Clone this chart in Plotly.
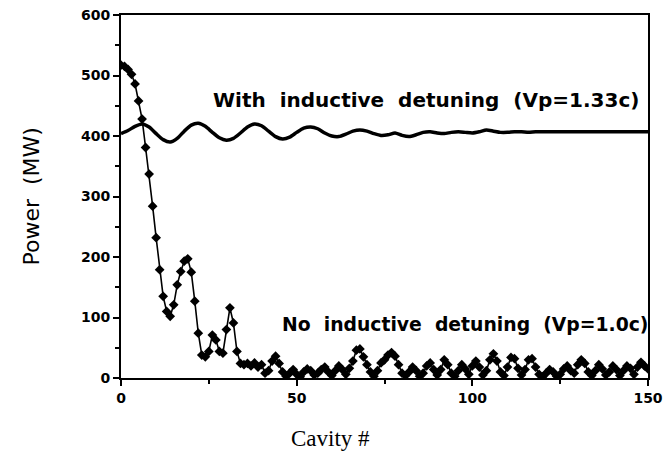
import plotly.graph_objects as go

# No inductive detuning (Vp=1.0c): power per cavity, cavities 0..150
no_detune_cavity = list(range(0, 151))
no_detune_power = [
    517, 515, 510, 502, 486, 458, 428, 381, 337, 284,
    232, 179, 135, 110, 102, 121, 154, 176, 193, 197,
    175, 127, 74, 38, 35, 44, 71, 63, 44, 41,
    80, 116, 91, 44, 24, 22, 24, 20, 25, 18,
    22, 8, 12, 28, 36, 24, 10, 3, 8, 14,
    6, 2, 10, 15, 12, 5, 8, 14, 18, 10,
    4, 12, 20, 14, 6, 16, 28, 46, 48, 35,
    22, 10, 3, 12, 25, 30, 38, 42, 36, 22,
    8, 4, 10, 18, 12, 3, 8, 20, 25, 14,
    5, 14, 30, 22, 8, 3, 12, 22, 15, 6,
    20, 28, 18, 5, 12, 30, 40, 28, 10, 4,
    18, 34, 32, 16, 5, 14, 30, 32, 18, 6,
    2, 8, 14, 10, 3, 6, 15, 20, 12, 8,
    22, 30, 24, 10, 4, 12, 22, 15, 5, 10,
    20, 14, 4, 12, 20, 16, 6, 18, 26, 20,
    15,
]

# With inductive detuning (Vp=1.33c)
with_detune_cavity = list(range(0, 151, 2))
with_detune_power = [
    404, 409, 416, 420, 415, 404, 394, 390, 396, 408,
    418, 421, 416, 406, 397, 393, 396, 405, 415, 420,
    417, 408, 399, 395, 398, 406, 413, 415, 412, 405,
    400, 399, 403, 408, 410, 408, 404, 401, 402, 405,
    401, 399, 402, 406, 407, 405, 404, 406, 407, 406,
    405, 407, 410, 408, 406, 406, 407, 407, 406, 407,
    407, 407, 407, 407, 407, 407, 407, 407, 407, 407,
    407, 407, 407, 407, 407, 407,
]

x_ticks = [0, 50, 100, 150]
x_tick_labels = ["0", "50", "100", "150"]
y_ticks = [0, 100, 200, 300, 400, 500, 600]
y_tick_labels = ["0", "100", "200", "300", "400", "500", "600"]

label_with = "With\u00a0\u00a0inductive\u00a0\u00a0detuning\u00a0\u00a0(Vp=1.33c)"
label_no = "No\u00a0\u00a0inductive\u00a0\u00a0detuning\u00a0\u00a0(Vp=1.0c)"
x_title = "Cavity #"
y_title = "Power\u00a0\u00a0(MW)"

fig = go.Figure()
fig.add_trace(go.Scatter(
    x=with_detune_cavity, y=with_detune_power, mode="lines",
    line=dict(color="black", width=3.5, shape="spline", smoothing=0.6),
    showlegend=False,
))
fig.add_trace(go.Scatter(
    x=no_detune_cavity, y=no_detune_power, mode="lines+markers",
    line=dict(color="black", width=1.6),
    marker=dict(symbol="diamond", size=7.5, color="black"),
    showlegend=False,
))

fig.add_annotation(x=148, y=460, text=label_with, showarrow=False,
                   xanchor="right", yanchor="middle",
                   font=dict(family="DejaVu Sans", size=20, color="black", weight="bold"))
fig.add_annotation(x=150, y=88, text=label_no, showarrow=False,
                   xanchor="right", yanchor="middle", xshift=2,
                   font=dict(family="DejaVu Sans", size=18.8, color="black", weight="bold"))

# axis titles as annotations for exact placement
fig.add_annotation(xref="paper", yref="paper", x=0, y=0.5, xshift=-90,
                   text=y_title, textangle=-90, showarrow=False,
                   xanchor="center", yanchor="middle",
                   font=dict(family="DejaVu Sans", size=22, color="black"))
fig.add_annotation(xref="paper", yref="paper", x=(330 - 121) / 527, y=0, yshift=-60,
                   text=x_title, showarrow=False,
                   xanchor="center", yanchor="middle",
                   font=dict(family="Liberation Serif", size=23, color="black"))

axis_common = dict(
    showline=True, linecolor="black", linewidth=2, mirror=True,
    showgrid=False, zeroline=False, automargin=False,
    ticklabeloverflow="allow",
    ticks="outside", tickcolor="black", tickwidth=1.5, ticklen=6,
    tickfont=dict(family="DejaVu Sans", size=14, color="black", weight="bold"),
)

fig.update_xaxes(
    range=[0, 150], tickvals=x_ticks, ticktext=x_tick_labels,
    minor=dict(dtick=25, ticks="outside", ticklen=4, tickcolor="black", tickwidth=1.5),
    **axis_common,
)
fig.update_yaxes(
    range=[0, 600], tickvals=y_ticks, ticktext=y_tick_labels,
    minor=dict(dtick=50, ticks="outside", ticklen=4, tickcolor="black", tickwidth=1.5),
    **axis_common,
)

fig.update_layout(
    width=665, height=453,
    margin=dict(l=121, r=17, t=15, b=75),
    paper_bgcolor="white", plot_bgcolor="white",
)

# remove the page's default body margin so the figure fills the window exactly
fig.write_html(
    "out.html",
    config={"displayModeBar": False},
    post_script="document.body.style.margin='0';document.body.style.overflow='hidden';",
)
